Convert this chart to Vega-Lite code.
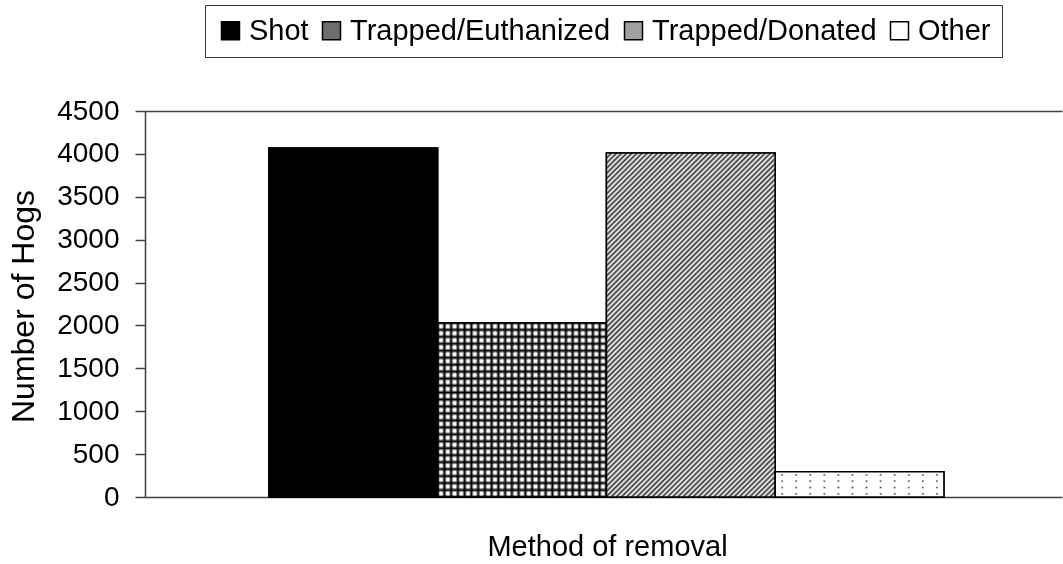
{
  "$schema": "https://vega.github.io/schema/vega-lite/v6.json",
  "autosize": "none",
  "width": 917,
  "height": 386,
  "padding": {"left": 145, "top": 111, "right": 1, "bottom": 67},
  "background": "#ffffff",
  "config": {"font": "Liberation Sans", "view": {"stroke": null}},
  "data": {
    "values": [
      {"method": "Shot", "hogs": 4070},
      {"method": "Trapped/Euthanized", "hogs": 2030},
      {"method": "Trapped/Donated", "hogs": 4010},
      {"method": "Other", "hogs": 295}
    ]
  },
  "encoding": {
    "x": {
      "field": "method",
      "type": "nominal",
      "scale": {"domain": ["Shot", "Trapped/Euthanized", "Trapped/Donated", "Other"], "paddingInner": 0, "paddingOuter": 0.717, "align": 0.512},
      "axis": {
        "title": "Method of removal",
        "labels": false,
        "ticks": false,
        "domainColor": "#404040",
        "domainWidth": 1.5,
        "titleFont": "Liberation Sans",
        "titleFontSize": 29,
        "titleFontWeight": "normal",
        "titleColor": "#000",
        "titleX": 462,
        "titleY": 58,
        "titleAlign": "center",
        "titleBaseline": "alphabetic"
      }
    },
    "y": {
      "field": "hogs",
      "type": "quantitative",
      "scale": {"domain": [0, 4500], "nice": false},
      "axis": {
        "title": "Number of Hogs",
        "values": [0, 500, 1000, 1500, 2000, 2500, 3000, 3500, 4000, 4500],
        "format": "d",
        "tickSize": 10,
        "tickColor": "#404040",
        "tickWidth": 1.5,
        "domainColor": "#404040",
        "domainWidth": 1.5,
        "labelFont": "Liberation Sans",
        "labelFontSize": 28,
        "labelColor": "#000",
        "labelPadding": 16,
        "titleFont": "Liberation Sans",
        "titleFontSize": 32,
        "titleFontWeight": "normal",
        "titleColor": "#000",
        "titleX": -112,
        "titleY": 195,
        "titleAngle": -90,
        "titleAlign": "center",
        "titleBaseline": "alphabetic",
        "grid": true,
        "gridColor": "#404040",
        "gridWidth": 1.5,
        "gridOpacity": {"condition": {"test": "datum.value === 4500", "value": 1}, "value": 0}
      }
    }
  },
  "layer": [
    {
      "mark": {"type": "bar", "strokeWidth": 1.5},
      "encoding": {
        "fill": {
          "field": "method",
          "type": "nominal",
          "scale": {"domain": ["Shot", "Trapped/Euthanized", "Trapped/Donated", "Other"], "range": ["#000000", "#6e6e6e", "#a0a0a0", "#ffffff"]},
          "legend": {
            "title": null,
            "orient": "none",
            "legendX": 60,
            "legendY": -106,
            "direction": "horizontal",
            "symbolType": "square",
            "symbolSize": 324,
            "symbolStrokeWidth": 1.5,
            "symbolOpacity": 1,
            "labelFont": "Liberation Sans",
            "labelFontSize": 29,
            "labelColor": "#000",
            "labelOffset": 4,
            "labelLimit": 0,
            "columnPadding": 8,
            "padding": 11,
            "strokeColor": "#333333",
            "fillColor": "#ffffff"
          }
        },
        "stroke": {
          "field": "method",
          "type": "nominal",
          "scale": {"domain": ["Shot", "Trapped/Euthanized", "Trapped/Donated", "Other"], "range": ["#000000", "#000000", "#000000", "#000000"]},
          "legend": {
            "title": null,
            "orient": "none",
            "legendX": 60,
            "legendY": -106,
            "direction": "horizontal",
            "symbolType": "square",
            "symbolSize": 324,
            "symbolStrokeWidth": 1.5,
            "symbolOpacity": 1,
            "labelFont": "Liberation Sans",
            "labelFontSize": 29,
            "labelColor": "#000",
            "labelOffset": 4,
            "labelLimit": 0,
            "columnPadding": 8,
            "padding": 11,
            "strokeColor": "#333333",
            "fillColor": "#ffffff"
          }
        }
      }
    },
    {
      "transform": [{"filter": "datum.method === 'Trapped/Donated'"}],
      "mark": {
        "type": "bar",
        "fill": {
          "gradient": "linear", "x1": 0, "y1": 0, "x2": 0.5894, "y2": 1.2014,
          "stops": [
            {"offset":0,"color":"#333"},{"offset":0.005,"color":"#fff"},{"offset":0.01,"color":"#333"},{"offset":0.015,"color":"#fff"},
            {"offset":0.02,"color":"#333"},{"offset":0.025,"color":"#fff"},{"offset":0.03,"color":"#333"},{"offset":0.035,"color":"#fff"},
            {"offset":0.04,"color":"#333"},{"offset":0.045,"color":"#fff"},{"offset":0.05,"color":"#333"},{"offset":0.055,"color":"#fff"},
            {"offset":0.06,"color":"#333"},{"offset":0.065,"color":"#fff"},{"offset":0.07,"color":"#333"},{"offset":0.075,"color":"#fff"},
            {"offset":0.08,"color":"#333"},{"offset":0.085,"color":"#fff"},{"offset":0.09,"color":"#333"},{"offset":0.095,"color":"#fff"},
            {"offset":0.1,"color":"#333"},{"offset":0.105,"color":"#fff"},{"offset":0.11,"color":"#333"},{"offset":0.115,"color":"#fff"},
            {"offset":0.12,"color":"#333"},{"offset":0.125,"color":"#fff"},{"offset":0.13,"color":"#333"},{"offset":0.135,"color":"#fff"},
            {"offset":0.14,"color":"#333"},{"offset":0.145,"color":"#fff"},{"offset":0.15,"color":"#333"},{"offset":0.155,"color":"#fff"},
            {"offset":0.16,"color":"#333"},{"offset":0.165,"color":"#fff"},{"offset":0.17,"color":"#333"},{"offset":0.175,"color":"#fff"},
            {"offset":0.18,"color":"#333"},{"offset":0.185,"color":"#fff"},{"offset":0.19,"color":"#333"},{"offset":0.195,"color":"#fff"},
            {"offset":0.2,"color":"#333"},{"offset":0.205,"color":"#fff"},{"offset":0.21,"color":"#333"},{"offset":0.215,"color":"#fff"},
            {"offset":0.22,"color":"#333"},{"offset":0.225,"color":"#fff"},{"offset":0.23,"color":"#333"},{"offset":0.235,"color":"#fff"},
            {"offset":0.24,"color":"#333"},{"offset":0.245,"color":"#fff"},{"offset":0.25,"color":"#333"},{"offset":0.255,"color":"#fff"},
            {"offset":0.26,"color":"#333"},{"offset":0.265,"color":"#fff"},{"offset":0.27,"color":"#333"},{"offset":0.275,"color":"#fff"},
            {"offset":0.28,"color":"#333"},{"offset":0.285,"color":"#fff"},{"offset":0.29,"color":"#333"},{"offset":0.295,"color":"#fff"},
            {"offset":0.3,"color":"#333"},{"offset":0.305,"color":"#fff"},{"offset":0.31,"color":"#333"},{"offset":0.315,"color":"#fff"},
            {"offset":0.32,"color":"#333"},{"offset":0.325,"color":"#fff"},{"offset":0.33,"color":"#333"},{"offset":0.335,"color":"#fff"},
            {"offset":0.34,"color":"#333"},{"offset":0.345,"color":"#fff"},{"offset":0.35,"color":"#333"},{"offset":0.355,"color":"#fff"},
            {"offset":0.36,"color":"#333"},{"offset":0.365,"color":"#fff"},{"offset":0.37,"color":"#333"},{"offset":0.375,"color":"#fff"},
            {"offset":0.38,"color":"#333"},{"offset":0.385,"color":"#fff"},{"offset":0.39,"color":"#333"},{"offset":0.395,"color":"#fff"},
            {"offset":0.4,"color":"#333"},{"offset":0.405,"color":"#fff"},{"offset":0.41,"color":"#333"},{"offset":0.415,"color":"#fff"},
            {"offset":0.42,"color":"#333"},{"offset":0.425,"color":"#fff"},{"offset":0.43,"color":"#333"},{"offset":0.435,"color":"#fff"},
            {"offset":0.44,"color":"#333"},{"offset":0.445,"color":"#fff"},{"offset":0.45,"color":"#333"},{"offset":0.455,"color":"#fff"},
            {"offset":0.46,"color":"#333"},{"offset":0.465,"color":"#fff"},{"offset":0.47,"color":"#333"},{"offset":0.475,"color":"#fff"},
            {"offset":0.48,"color":"#333"},{"offset":0.485,"color":"#fff"},{"offset":0.49,"color":"#333"},{"offset":0.495,"color":"#fff"},
            {"offset":0.5,"color":"#333"},{"offset":0.505,"color":"#fff"},{"offset":0.51,"color":"#333"},{"offset":0.515,"color":"#fff"},
            {"offset":0.52,"color":"#333"},{"offset":0.525,"color":"#fff"},{"offset":0.53,"color":"#333"},{"offset":0.535,"color":"#fff"},
            {"offset":0.54,"color":"#333"},{"offset":0.545,"color":"#fff"},{"offset":0.55,"color":"#333"},{"offset":0.555,"color":"#fff"},
            {"offset":0.56,"color":"#333"},{"offset":0.565,"color":"#fff"},{"offset":0.57,"color":"#333"},{"offset":0.575,"color":"#fff"},
            {"offset":0.58,"color":"#333"},{"offset":0.585,"color":"#fff"},{"offset":0.59,"color":"#333"},{"offset":0.595,"color":"#fff"},
            {"offset":0.6,"color":"#333"},{"offset":0.605,"color":"#fff"},{"offset":0.61,"color":"#333"},{"offset":0.615,"color":"#fff"},
            {"offset":0.62,"color":"#333"},{"offset":0.625,"color":"#fff"},{"offset":0.63,"color":"#333"},{"offset":0.635,"color":"#fff"},
            {"offset":0.64,"color":"#333"},{"offset":0.645,"color":"#fff"},{"offset":0.65,"color":"#333"},{"offset":0.655,"color":"#fff"},
            {"offset":0.66,"color":"#333"},{"offset":0.665,"color":"#fff"},{"offset":0.67,"color":"#333"},{"offset":0.675,"color":"#fff"},
            {"offset":0.68,"color":"#333"},{"offset":0.685,"color":"#fff"},{"offset":0.69,"color":"#333"},{"offset":0.695,"color":"#fff"},
            {"offset":0.7,"color":"#333"},{"offset":0.705,"color":"#fff"},{"offset":0.71,"color":"#333"},{"offset":0.715,"color":"#fff"},
            {"offset":0.72,"color":"#333"},{"offset":0.725,"color":"#fff"},{"offset":0.73,"color":"#333"},{"offset":0.735,"color":"#fff"},
            {"offset":0.74,"color":"#333"},{"offset":0.745,"color":"#fff"},{"offset":0.75,"color":"#333"},{"offset":0.755,"color":"#fff"},
            {"offset":0.76,"color":"#333"},{"offset":0.765,"color":"#fff"},{"offset":0.77,"color":"#333"},{"offset":0.775,"color":"#fff"},
            {"offset":0.78,"color":"#333"},{"offset":0.785,"color":"#fff"},{"offset":0.79,"color":"#333"},{"offset":0.795,"color":"#fff"},
            {"offset":0.8,"color":"#333"},{"offset":0.805,"color":"#fff"},{"offset":0.81,"color":"#333"},{"offset":0.815,"color":"#fff"},
            {"offset":0.82,"color":"#333"},{"offset":0.825,"color":"#fff"},{"offset":0.83,"color":"#333"},{"offset":0.835,"color":"#fff"},
            {"offset":0.84,"color":"#333"},{"offset":0.845,"color":"#fff"},{"offset":0.85,"color":"#333"},{"offset":0.855,"color":"#fff"},
            {"offset":0.86,"color":"#333"},{"offset":0.865,"color":"#fff"},{"offset":0.87,"color":"#333"},{"offset":0.875,"color":"#fff"},
            {"offset":0.88,"color":"#333"},{"offset":0.885,"color":"#fff"},{"offset":0.89,"color":"#333"},{"offset":0.895,"color":"#fff"},
            {"offset":0.9,"color":"#333"},{"offset":0.905,"color":"#fff"},{"offset":0.91,"color":"#333"},{"offset":0.915,"color":"#fff"},
            {"offset":0.92,"color":"#333"},{"offset":0.925,"color":"#fff"},{"offset":0.93,"color":"#333"},{"offset":0.935,"color":"#fff"},
            {"offset":0.94,"color":"#333"},{"offset":0.945,"color":"#fff"},{"offset":0.95,"color":"#333"},{"offset":0.955,"color":"#fff"},
            {"offset":0.96,"color":"#333"},{"offset":0.965,"color":"#fff"},{"offset":0.97,"color":"#333"},{"offset":0.975,"color":"#fff"},
            {"offset":0.98,"color":"#333"},{"offset":0.985,"color":"#fff"},{"offset":0.99,"color":"#333"},{"offset":0.995,"color":"#fff"},
            {"offset":1,"color":"#333"}
          ]
        }
      }
    },
    {
      "transform": [{"filter": "datum.method === 'Trapped/Euthanized'"}],
      "mark": {"type": "bar", "fill": "#ffffff"}
    },
    {
      "transform": [{"filter": "datum.method === 'Trapped/Euthanized'"}],
      "mark": {
        "type": "bar",
        "fill": {
          "gradient": "linear", "x1": 0, "y1": 0, "x2": 1, "y2": 0,
          "stops": [
            {"offset":0,"color":"#000"},{"offset":0.014,"color":"transparent"},{"offset":0.026,"color":"transparent"},
            {"offset":0.04,"color":"#000"},{"offset":0.054,"color":"transparent"},{"offset":0.066,"color":"transparent"},
            {"offset":0.08,"color":"#000"},{"offset":0.094,"color":"transparent"},{"offset":0.106,"color":"transparent"},
            {"offset":0.12,"color":"#000"},{"offset":0.134,"color":"transparent"},{"offset":0.146,"color":"transparent"},
            {"offset":0.16,"color":"#000"},{"offset":0.174,"color":"transparent"},{"offset":0.186,"color":"transparent"},
            {"offset":0.2,"color":"#000"},{"offset":0.214,"color":"transparent"},{"offset":0.226,"color":"transparent"},
            {"offset":0.24,"color":"#000"},{"offset":0.254,"color":"transparent"},{"offset":0.266,"color":"transparent"},
            {"offset":0.28,"color":"#000"},{"offset":0.294,"color":"transparent"},{"offset":0.306,"color":"transparent"},
            {"offset":0.32,"color":"#000"},{"offset":0.334,"color":"transparent"},{"offset":0.346,"color":"transparent"},
            {"offset":0.36,"color":"#000"},{"offset":0.374,"color":"transparent"},{"offset":0.386,"color":"transparent"},
            {"offset":0.4,"color":"#000"},{"offset":0.414,"color":"transparent"},{"offset":0.426,"color":"transparent"},
            {"offset":0.44,"color":"#000"},{"offset":0.454,"color":"transparent"},{"offset":0.466,"color":"transparent"},
            {"offset":0.48,"color":"#000"},{"offset":0.494,"color":"transparent"},{"offset":0.506,"color":"transparent"},
            {"offset":0.52,"color":"#000"},{"offset":0.534,"color":"transparent"},{"offset":0.546,"color":"transparent"},
            {"offset":0.56,"color":"#000"},{"offset":0.574,"color":"transparent"},{"offset":0.586,"color":"transparent"},
            {"offset":0.6,"color":"#000"},{"offset":0.614,"color":"transparent"},{"offset":0.626,"color":"transparent"},
            {"offset":0.64,"color":"#000"},{"offset":0.654,"color":"transparent"},{"offset":0.666,"color":"transparent"},
            {"offset":0.68,"color":"#000"},{"offset":0.694,"color":"transparent"},{"offset":0.706,"color":"transparent"},
            {"offset":0.72,"color":"#000"},{"offset":0.734,"color":"transparent"},{"offset":0.746,"color":"transparent"},
            {"offset":0.76,"color":"#000"},{"offset":0.774,"color":"transparent"},{"offset":0.786,"color":"transparent"},
            {"offset":0.8,"color":"#000"},{"offset":0.814,"color":"transparent"},{"offset":0.826,"color":"transparent"},
            {"offset":0.84,"color":"#000"},{"offset":0.854,"color":"transparent"},{"offset":0.866,"color":"transparent"},
            {"offset":0.88,"color":"#000"},{"offset":0.894,"color":"transparent"},{"offset":0.906,"color":"transparent"},
            {"offset":0.92,"color":"#000"},{"offset":0.934,"color":"transparent"},{"offset":0.946,"color":"transparent"},
            {"offset":0.96,"color":"#000"},{"offset":0.974,"color":"transparent"},{"offset":0.986,"color":"transparent"},
            {"offset":1,"color":"#000"}
          ]
        }
      }
    },
    {
      "transform": [{"filter": "datum.method === 'Trapped/Euthanized'"}],
      "mark": {
        "type": "bar",
        "fill": {
          "gradient": "linear", "x1": 0, "y1": 0, "x2": 0, "y2": 1,
          "stops": [
            {"offset":0,"color":"#000"},{"offset":0.014,"color":"transparent"},{"offset":0.026,"color":"transparent"},
            {"offset":0.04,"color":"#000"},{"offset":0.054,"color":"transparent"},{"offset":0.066,"color":"transparent"},
            {"offset":0.08,"color":"#000"},{"offset":0.094,"color":"transparent"},{"offset":0.106,"color":"transparent"},
            {"offset":0.12,"color":"#000"},{"offset":0.134,"color":"transparent"},{"offset":0.146,"color":"transparent"},
            {"offset":0.16,"color":"#000"},{"offset":0.174,"color":"transparent"},{"offset":0.186,"color":"transparent"},
            {"offset":0.2,"color":"#000"},{"offset":0.214,"color":"transparent"},{"offset":0.226,"color":"transparent"},
            {"offset":0.24,"color":"#000"},{"offset":0.254,"color":"transparent"},{"offset":0.266,"color":"transparent"},
            {"offset":0.28,"color":"#000"},{"offset":0.294,"color":"transparent"},{"offset":0.306,"color":"transparent"},
            {"offset":0.32,"color":"#000"},{"offset":0.334,"color":"transparent"},{"offset":0.346,"color":"transparent"},
            {"offset":0.36,"color":"#000"},{"offset":0.374,"color":"transparent"},{"offset":0.386,"color":"transparent"},
            {"offset":0.4,"color":"#000"},{"offset":0.414,"color":"transparent"},{"offset":0.426,"color":"transparent"},
            {"offset":0.44,"color":"#000"},{"offset":0.454,"color":"transparent"},{"offset":0.466,"color":"transparent"},
            {"offset":0.48,"color":"#000"},{"offset":0.494,"color":"transparent"},{"offset":0.506,"color":"transparent"},
            {"offset":0.52,"color":"#000"},{"offset":0.534,"color":"transparent"},{"offset":0.546,"color":"transparent"},
            {"offset":0.56,"color":"#000"},{"offset":0.574,"color":"transparent"},{"offset":0.586,"color":"transparent"},
            {"offset":0.6,"color":"#000"},{"offset":0.614,"color":"transparent"},{"offset":0.626,"color":"transparent"},
            {"offset":0.64,"color":"#000"},{"offset":0.654,"color":"transparent"},{"offset":0.666,"color":"transparent"},
            {"offset":0.68,"color":"#000"},{"offset":0.694,"color":"transparent"},{"offset":0.706,"color":"transparent"},
            {"offset":0.72,"color":"#000"},{"offset":0.734,"color":"transparent"},{"offset":0.746,"color":"transparent"},
            {"offset":0.76,"color":"#000"},{"offset":0.774,"color":"transparent"},{"offset":0.786,"color":"transparent"},
            {"offset":0.8,"color":"#000"},{"offset":0.814,"color":"transparent"},{"offset":0.826,"color":"transparent"},
            {"offset":0.84,"color":"#000"},{"offset":0.854,"color":"transparent"},{"offset":0.866,"color":"transparent"},
            {"offset":0.88,"color":"#000"},{"offset":0.894,"color":"transparent"},{"offset":0.906,"color":"transparent"},
            {"offset":0.92,"color":"#000"},{"offset":0.934,"color":"transparent"},{"offset":0.946,"color":"transparent"},
            {"offset":0.96,"color":"#000"},{"offset":0.974,"color":"transparent"},{"offset":0.986,"color":"transparent"},
            {"offset":1,"color":"#000"}
          ]
        }
      }
    },
    {
      "transform": [{"filter": "datum.method === 'Other'"}],
      "mark": {
        "type": "bar",
        "fill": {
          "gradient": "linear", "x1": 0, "y1": 0, "x2": 1, "y2": 0,
          "stops": [
            {"offset":0.0337,"color":"#fff"},{"offset":0.0417,"color":"#333"},{"offset":0.0497,"color":"#fff"},
            {"offset":0.117,"color":"#fff"},{"offset":0.125,"color":"#333"},{"offset":0.133,"color":"#fff"},
            {"offset":0.2003,"color":"#fff"},{"offset":0.2083,"color":"#333"},{"offset":0.2163,"color":"#fff"},
            {"offset":0.2837,"color":"#fff"},{"offset":0.2917,"color":"#333"},{"offset":0.2997,"color":"#fff"},
            {"offset":0.367,"color":"#fff"},{"offset":0.375,"color":"#333"},{"offset":0.383,"color":"#fff"},
            {"offset":0.4503,"color":"#fff"},{"offset":0.4583,"color":"#333"},{"offset":0.4663,"color":"#fff"},
            {"offset":0.5337,"color":"#fff"},{"offset":0.5417,"color":"#333"},{"offset":0.5497,"color":"#fff"},
            {"offset":0.617,"color":"#fff"},{"offset":0.625,"color":"#333"},{"offset":0.633,"color":"#fff"},
            {"offset":0.7003,"color":"#fff"},{"offset":0.7083,"color":"#333"},{"offset":0.7163,"color":"#fff"},
            {"offset":0.7837,"color":"#fff"},{"offset":0.7917,"color":"#333"},{"offset":0.7997,"color":"#fff"},
            {"offset":0.867,"color":"#fff"},{"offset":0.875,"color":"#333"},{"offset":0.883,"color":"#fff"},
            {"offset":0.9503,"color":"#fff"},{"offset":0.9583,"color":"#333"},{"offset":0.9663,"color":"#fff"}
          ]
        }
      }
    },
    {
      "transform": [{"filter": "datum.method === 'Other'"}],
      "mark": {
        "type": "bar",
        "blend": "lighten",
        "fill": {
          "gradient": "linear", "x1": 0, "y1": 0, "x2": 0, "y2": 1,
          "stops": [
            {"offset":0.075,"color":"#fff"},{"offset":0.125,"color":"#333"},{"offset":0.175,"color":"#fff"},
            {"offset":0.325,"color":"#fff"},{"offset":0.375,"color":"#333"},{"offset":0.425,"color":"#fff"},
            {"offset":0.575,"color":"#fff"},{"offset":0.625,"color":"#333"},{"offset":0.675,"color":"#fff"},
            {"offset":0.825,"color":"#fff"},{"offset":0.875,"color":"#333"},{"offset":0.925,"color":"#fff"}
          ]
        }
      }
    },
    {
      "mark": {"type": "bar", "fill": "#ffffff", "fillOpacity": 0, "stroke": "#000000", "strokeWidth": 1.5}
    }
  ]
}
